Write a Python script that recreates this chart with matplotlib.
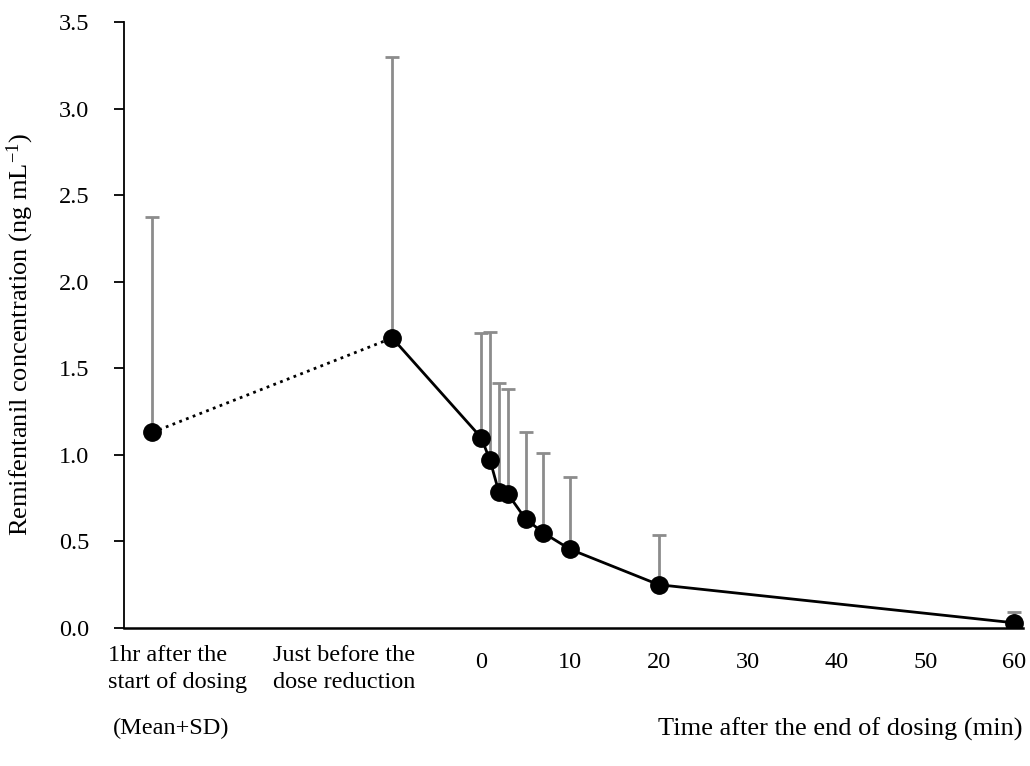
import matplotlib
matplotlib.use("Agg")
import matplotlib.pyplot as plt

plt.rcParams['font.family'] = ['Liberation Serif', 'DejaVu Serif']
plt.rcParams['mathtext.default'] = 'regular'

# the two sampling points before the end of dosing (placed on the time axis)
pre_x = [-37, -10]
pre_mean = [1.13, 1.675]
pre_sd = [1.245, 1.625]
pre_labels = ['1hr after the\nstart of dosing', 'Just before the\ndose reduction']

# time after the end of dosing (min)
post_x = [0, 1, 2, 3, 5, 7, 10, 20, 60]
post_mean = [1.10, 0.97, 0.785, 0.775, 0.63, 0.55, 0.455, 0.25, 0.03]
post_sd_top = [1.705, 1.71, 1.415, 1.38, 1.13, 1.01, 0.872, 0.537, 0.095]

x_ticks = [0, 10, 20, 30, 40, 50, 60]
y_ticks = [0.0, 0.5, 1.0, 1.5, 2.0, 2.5, 3.0, 3.5]

fig = plt.figure(figsize=(10.3, 7.66), dpi=100)
ax = fig.add_axes([124/1030, 1 - 628/766, 899/1030, 606/766])

all_x = pre_x + post_x
all_mean = pre_mean + post_mean
all_sd = pre_sd + [t - m for t, m in zip(post_sd_top, post_mean)]

# error bars (upper SD only)
ax.errorbar(all_x, all_mean, yerr=[[0] * len(all_sd), all_sd], fmt='none',
            ecolor='#8c8c8c', elinewidth=2, capsize=4.7, capthick=2, zorder=1)

# dotted link between pre-dose points, solid line afterwards
ax.plot(pre_x, pre_mean, color='black', linestyle=(0, (1, 1.6)), linewidth=2, zorder=2)
ax.plot([pre_x[1]] + post_x, [pre_mean[1]] + post_mean, color='black', linewidth=2, zorder=2)
ax.plot(all_x, all_mean, 'o', color='black', markersize=12.5, zorder=3)

ax.set_xlim(-40.2, 61)
ax.set_ylim(0, 3.5)
ax.set_xticks(x_ticks)
ax.set_xticklabels([str(v) for v in x_ticks], fontsize=17.5)
ax.tick_params(axis='x', length=0, pad=17)
ax.set_yticks(y_ticks)
ax.set_yticklabels(['%.1f' % v for v in y_ticks], fontsize=17.5)
ax.tick_params(axis='y', direction='out', length=7, width=1.3, pad=18)

ax.spines['top'].set_visible(False)
ax.spines['right'].set_visible(False)
ax.spines['left'].set_linewidth(1.3)
ax.spines['bottom'].set_linewidth(1.8)

# category labels for the two pre-dose points
fig.text(108/1030, 1 - 669/766, pre_labels[0], fontsize=17.5, ha='left', va='center',
         linespacing=1.35)
fig.text(273/1030, 1 - 669/766, pre_labels[1], fontsize=17.5, ha='left', va='center',
         linespacing=1.35)
fig.text(113/1030, 1 - 728/766, '(Mean+SD)', fontsize=17.5, ha='left', va='center')

fig.text(20/1030, 1 - 335/766, 'Remifentanil concentration (ng mL$^{-1}$)', fontsize=19,
         rotation=90, ha='center', va='center')
fig.text(1023/1030, 1 - 736/766, 'Time after the end of dosing (min)', fontsize=19,
         ha='right', va='baseline')

fig.savefig('out.png', dpi=100)
